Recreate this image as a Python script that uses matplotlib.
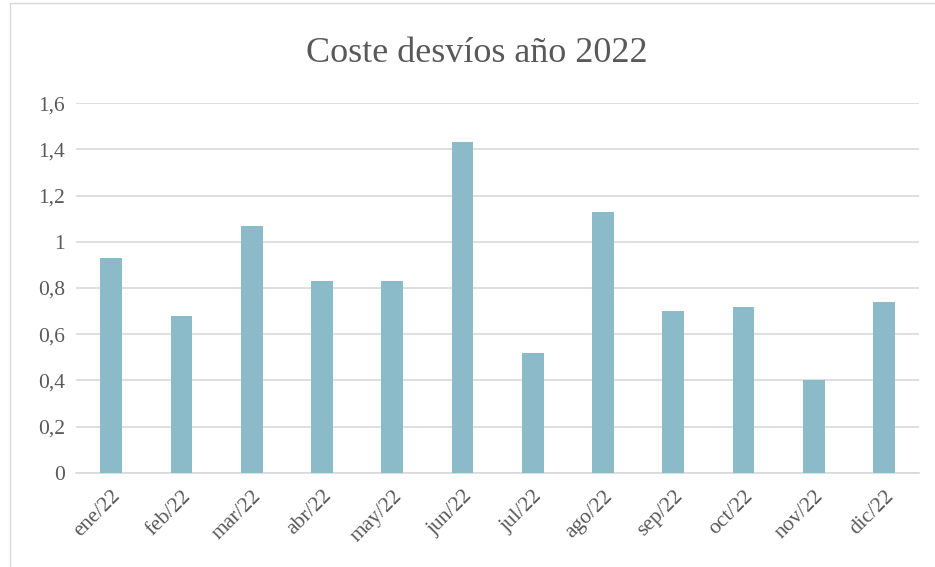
import matplotlib.pyplot as plt
from matplotlib.patches import Rectangle

months = ["ene/22", "feb/22", "mar/22", "abr/22", "may/22", "jun/22",
          "jul/22", "ago/22", "sep/22", "oct/22", "nov/22", "dic/22"]
costs = [0.93, 0.68, 1.07, 0.83, 0.83, 1.43, 0.52, 1.13, 0.70, 0.72, 0.40, 0.74]
y_ticks = [0, 0.2, 0.4, 0.6, 0.8, 1.0, 1.2, 1.4, 1.6]

plt.rcParams["font.family"] = ["Liberation Serif", "DejaVu Serif"]

fig = plt.figure(figsize=(9.35, 5.67), dpi=100)
ax = fig.add_axes([0.0813, 0.166, 0.9017, 0.652])

x = range(len(months))
ax.bar(x, costs, width=0.31, color="#8BBAC8", zorder=3)

ax.set_xlim(-0.5, len(months) - 0.5)
ax.set_ylim(0, 1.6)
ax.set_yticks(y_ticks)
ax.set_yticklabels([("%g" % v).replace(".", ",") for v in y_ticks])
ax.set_xticks(list(x))
ax.set_xticklabels(months, rotation=45, ha="right", rotation_mode="anchor")
ax.tick_params(axis="both", length=0, labelsize=15.5, colors="#595959", pad=8)
ax.tick_params(axis="x", pad=10)

ax.grid(axis="y", color="#D9D9D9", linewidth=1.2, zorder=0)
for s in ["top", "right", "left"]:
    ax.spines[s].set_visible(False)
ax.spines["bottom"].set_color("#D9D9D9")
ax.spines["bottom"].set_linewidth(1.2)

fig.text(0.51, 0.905, "Coste desvíos año 2022", ha="center", va="center",
         fontsize=26, color="#595959")

fig.patches.append(Rectangle((0.011, -0.01), 1.0, 1.005, transform=fig.transFigure,
                             fill=False, edgecolor="#D9D9D9", linewidth=1))

fig.savefig("out.png", dpi=100)
